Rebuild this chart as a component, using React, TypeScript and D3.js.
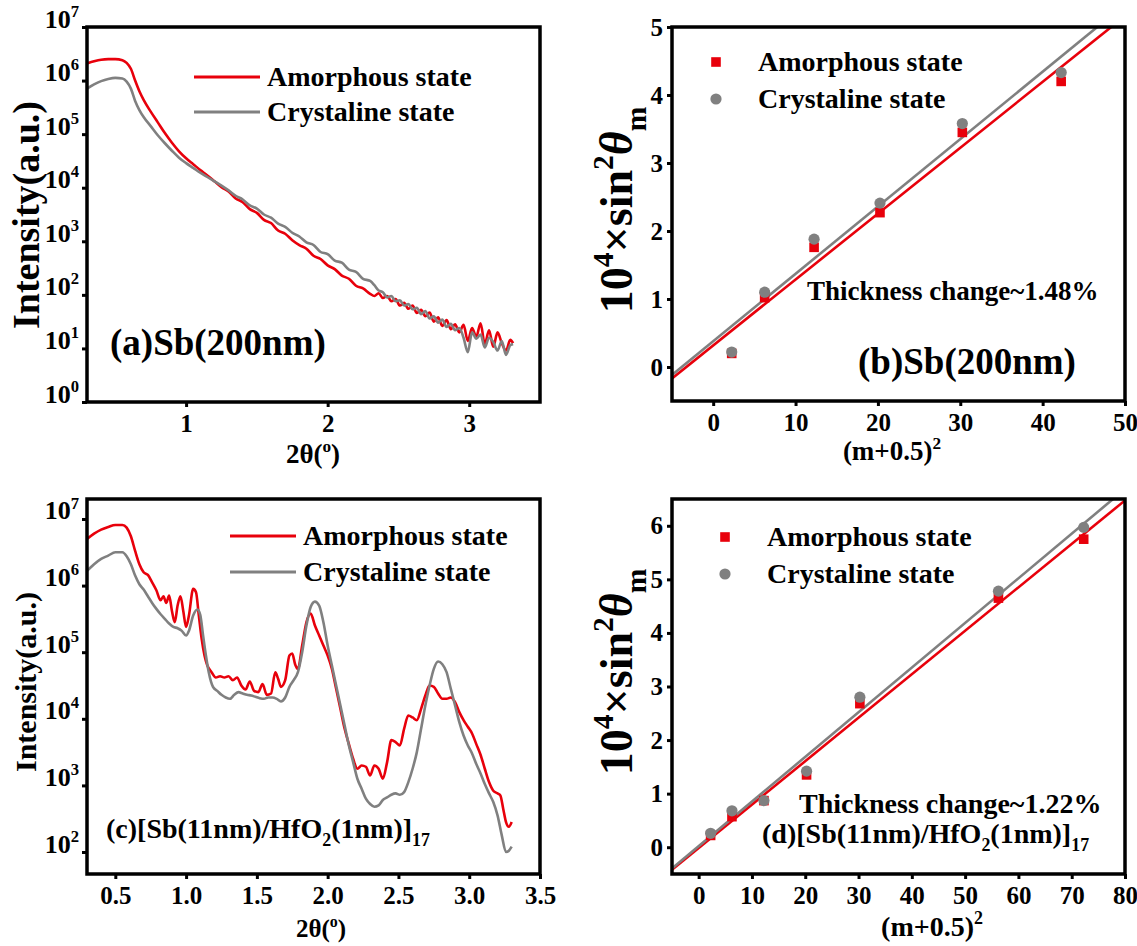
import { useEffect, useRef } from "react";
import * as d3 from "d3";

const RED = "#e8000b";
const GRAY = "#808080";
const FONT = "'Liberation Serif', 'Times New Roman', serif";

// (a) Sb(200nm) reflectivity: 2θ (deg) and log10(intensity)
const angleA = [
  0.3, 0.35, 0.4, 0.45, 0.5, 0.55, 0.58, 0.61, 0.64, 0.67, 0.7, 0.75, 0.8, 0.85, 0.9, 0.95, 1.0, 1.05,
  1.1, 1.15, 1.2, 1.25, 1.3, 1.35, 1.4, 1.45, 1.5, 1.55, 1.6, 1.65, 1.7, 1.75, 1.8, 1.85, 1.9, 1.95, 2.0,
  2.05, 2.1, 2.15, 2.2, 2.25, 2.3, 2.33, 2.36, 2.39, 2.42, 2.45, 2.48, 2.51, 2.54, 2.57, 2.6, 2.63, 2.66,
  2.69, 2.72, 2.75, 2.78, 2.81, 2.84, 2.87, 2.9, 2.93, 2.96, 2.99, 3.02, 3.05, 3.08, 3.11, 3.14, 3.17,
  3.2, 3.23, 3.26, 3.29, 3.31,
];
const amorphA = [
  6.32, 6.36, 6.39, 6.4, 6.4, 6.38, 6.33, 6.22, 6.0, 5.8, 5.64, 5.42, 5.22, 5.02, 4.84, 4.68, 4.55, 4.44,
  4.33, 4.23, 4.12, 4.01, 3.93, 3.8, 3.73, 3.6, 3.53, 3.4, 3.34, 3.2, 3.14, 3.02, 2.93, 2.86, 2.73, 2.67,
  2.55, 2.48, 2.36, 2.3, 2.17, 2.12, 2.02, 1.98, 2.03, 1.94, 1.98, 1.88, 1.92, 1.8, 1.85, 1.74, 1.8, 1.66,
  1.72, 1.6, 1.67, 1.5, 1.58, 1.42, 1.53, 1.36, 1.45, 1.3, 1.44, 1.14, 1.38, 1.22, 1.47, 1.08, 1.34,
  1.03, 1.3, 1.1, 0.96, 1.16, 1.1,
];
const crystA = [
  5.85, 5.93, 5.99, 6.03, 6.05, 6.04, 5.98, 5.85, 5.62, 5.45, 5.32, 5.15, 4.98, 4.83, 4.69, 4.56, 4.46,
  4.37, 4.28, 4.2, 4.12, 4.04, 3.95, 3.85, 3.78, 3.67, 3.61, 3.5, 3.44, 3.33, 3.27, 3.16, 3.09, 2.98,
  2.93, 2.8, 2.76, 2.64, 2.6, 2.47, 2.43, 2.3, 2.26, 2.18, 2.08, 2.05, 1.95, 1.98, 1.88, 1.9, 1.8, 1.83,
  1.73, 1.76, 1.64, 1.7, 1.56, 1.6, 1.48, 1.54, 1.4, 1.46, 1.34, 1.38, 1.2, 0.93, 1.3, 1.18, 1.26, 1.02,
  1.2, 1.12, 0.96, 1.14, 0.88, 1.06, 1.08,
];

// (c) [Sb(11nm)/HfO2(1nm)]17 reflectivity
const angleCAmorph = [
  0.3, 0.35, 0.4, 0.45, 0.5, 0.55, 0.58, 0.61, 0.64, 0.67, 0.7, 0.73, 0.76, 0.79, 0.82, 0.84, 0.86, 0.88,
  0.9, 0.92, 0.94, 0.96, 0.98, 1.0, 1.02, 1.05, 1.07, 1.09, 1.11, 1.13, 1.15, 1.18, 1.21, 1.24, 1.27,
  1.3, 1.33, 1.36, 1.39, 1.42, 1.45, 1.48, 1.51, 1.54, 1.57, 1.6, 1.63, 1.65, 1.67, 1.7, 1.73, 1.75,
  1.77, 1.79, 1.82, 1.85, 1.88, 1.91, 1.94, 1.97, 2.0, 2.03, 2.06, 2.09, 2.12, 2.15, 2.18, 2.21, 2.24,
  2.27, 2.3, 2.33, 2.36, 2.39, 2.42, 2.45, 2.48, 2.51, 2.54, 2.57, 2.6, 2.63, 2.66, 2.69, 2.72, 2.75,
  2.78, 2.81, 2.84, 2.87, 2.9, 2.93, 2.96, 2.99, 3.02, 3.05, 3.08, 3.11, 3.14, 3.17, 3.2, 3.22, 3.24,
  3.26, 3.28, 3.3,
];
const amorphC = [
  6.7, 6.78, 6.84, 6.88, 6.91, 6.91, 6.87, 6.74, 6.52, 6.32, 6.2, 6.16, 6.05, 5.93, 5.78, 5.84, 5.74,
  5.85, 5.62, 5.45, 5.7, 5.84, 5.62, 5.38, 5.55, 5.95, 5.9, 5.55, 5.2, 4.95, 4.8, 4.7, 4.62, 4.64, 4.62,
  4.64, 4.58, 4.62, 4.5, 4.44, 4.56, 4.42, 4.4, 4.52, 4.36, 4.38, 4.7, 4.6, 4.48, 4.58, 4.95, 4.98, 4.82,
  4.75, 5.1, 5.45, 5.58, 5.4, 5.25, 5.1, 4.95, 4.75, 4.45, 4.15, 3.85, 3.62, 3.4, 3.25, 3.3, 3.28, 3.15,
  3.3, 3.25, 3.1, 3.35, 3.68, 3.65, 3.6, 3.85, 4.05, 4.02, 3.98, 4.15, 4.35, 4.5, 4.48, 4.38, 4.3, 4.3,
  4.32, 4.25, 4.1, 3.98, 3.88, 3.78, 3.62, 3.46, 3.25, 3.05, 2.92, 2.88, 2.85, 2.65, 2.45, 2.38, 2.45,
];
const angleCCryst = [
  0.3, 0.35, 0.4, 0.45, 0.5, 0.55, 0.58, 0.61, 0.64, 0.67, 0.7, 0.73, 0.76, 0.79, 0.82, 0.85, 0.88, 0.91,
  0.94, 0.97, 1.0, 1.02, 1.05, 1.08, 1.1, 1.12, 1.14, 1.16, 1.19, 1.22, 1.25, 1.28, 1.31, 1.34, 1.37,
  1.4, 1.43, 1.46, 1.49, 1.52, 1.55, 1.58, 1.61, 1.64, 1.67, 1.7, 1.73, 1.76, 1.79, 1.82, 1.85, 1.88,
  1.91, 1.94, 1.97, 2.0, 2.03, 2.06, 2.09, 2.12, 2.15, 2.18, 2.21, 2.24, 2.27, 2.3, 2.33, 2.36, 2.39,
  2.42, 2.45, 2.48, 2.51, 2.54, 2.57, 2.6, 2.63, 2.66, 2.69, 2.72, 2.75, 2.78, 2.81, 2.84, 2.87, 2.9,
  2.93, 2.96, 2.99, 3.02, 3.05, 3.08, 3.11, 3.14, 3.17, 3.2, 3.23, 3.26, 3.28, 3.3,
];
const crystC = [
  6.22, 6.32, 6.4, 6.45, 6.5, 6.5, 6.44, 6.32, 6.15, 6.02, 5.94, 5.84, 5.74, 5.65, 5.57, 5.5, 5.43, 5.38,
  5.36, 5.32, 5.25, 5.32, 5.55, 5.64, 5.56, 5.25, 4.95, 4.7, 4.48, 4.42, 4.36, 4.32, 4.3, 4.36, 4.4,
  4.38, 4.36, 4.35, 4.33, 4.31, 4.3, 4.32, 4.32, 4.3, 4.26, 4.32, 4.48, 4.58, 4.7, 5.0, 5.4, 5.68, 5.76,
  5.7, 5.45, 5.1, 4.8, 4.5, 4.2, 3.9, 3.6, 3.35, 3.1, 2.95, 2.8, 2.72, 2.68, 2.7, 2.78, 2.82, 2.86, 2.88,
  2.86, 2.9, 3.05, 3.25, 3.5, 3.85, 4.2, 4.5, 4.75, 4.86, 4.82, 4.7, 4.45, 4.2, 3.95, 3.75, 3.6, 3.48,
  3.32, 3.18, 3.02, 2.88, 2.75, 2.55, 2.25, 2.0, 2.02, 2.08,
];

// (b) Sb(200nm): (m+0.5)^2 vs 10^4 sin^2(theta_m)
const orderB = [2.25, 6.25, 12.25, 20.25, 30.25, 42.25];
const amorphB = [0.2, 1.02, 1.76, 2.27, 3.45, 4.2];
const crystB = [0.22, 1.1, 1.88, 2.41, 3.58, 4.33];

// (d) multilayer
const orderD = [2.25, 6.25, 12.25, 20.25, 30.25, 56.25, 72.25];
const amorphD = [0.22, 0.57, 0.87, 1.35, 2.68, 4.65, 5.75];
const crystD = [0.26, 0.68, 0.87, 1.42, 2.8, 4.78, 5.97];

const decadesA = [0, 1, 2, 3, 4, 5, 6, 7];
const decadesC = [2, 3, 4, 5, 6, 7];
const angleTicksA = [1, 2, 3];
const angleTicksC = [0.5, 1.0, 1.5, 2.0, 2.5, 3.0, 3.5];
const orderTicksB = [0, 10, 20, 30, 40, 50];
const orderTicksD = [0, 10, 20, 30, 40, 50, 60, 70, 80];
const sinTicksB = [0, 1, 2, 3, 4, 5];
const sinTicksD = [0, 1, 2, 3, 4, 5, 6];

type Part = { t: string; k?: "sup" | "sub"; it?: boolean };
type Sel = d3.Selection<any, unknown, null, undefined>;
type Box = { x0: number; x1: number; y0: number; y1: number };

function rich(sel: Sel, parts: Part[], size: number) {
  let shift = 0;
  parts.forEach((p) => {
    const target = p.k === "sup" ? -0.42 * size : p.k === "sub" ? 0.3 * size : 0;
    const ts = sel
      .append("tspan")
      .attr("dy", target - shift)
      .attr("font-size", p.k ? size * 0.64 : size)
      .text(p.t);
    if (p.it) ts.attr("font-style", "italic");
    shift = target;
  });
}

function label(g: Sel, x: number, y: number, parts: Part[], size: number, anchor = "start", rotate = false) {
  const t = g
    .append("text")
    .attr("text-anchor", anchor)
    .attr("font-size", size)
    .attr("transform", rotate ? `translate(${x},${y}) rotate(-90)` : `translate(${x},${y})`);
  rich(t, parts, size);
}

function styleAxis(a: Sel, size: number) {
  a.attr("font-family", FONT).attr("font-weight", "bold").attr("font-size", size);
  a.select(".domain").remove();
  a.selectAll(".tick line").attr("stroke", "#000").attr("stroke-width", 3);
  a.selectAll(".tick text").attr("fill", "#000");
}

function fitLine(xs: number[], ys: number[]) {
  const mx = d3.mean(xs) ?? 0;
  const my = d3.mean(ys) ?? 0;
  const sxy = d3.sum(xs, (x, i) => (x - mx) * (ys[i] - my));
  const sxx = d3.sum(xs, (x) => (x - mx) ** 2);
  const slope = sxy / sxx;
  return { slope, intercept: my - slope * mx };
}

function frame(g: Sel, b: Box) {
  g.append("rect")
    .attr("x", b.x0)
    .attr("y", b.y0)
    .attr("width", b.x1 - b.x0)
    .attr("height", b.y1 - b.y0)
    .attr("fill", "none")
    .attr("stroke", "#000")
    .attr("stroke-width", 3.5);
}

function drawXrr(
  svg: Sel,
  id: string,
  b: Box,
  yDomain: [number, number],
  decades: number[],
  xTicks: number[],
  xFmt: (v: number) => string,
  series: { x: number[]; y: number[]; color: string }[],
) {
  const x = d3.scaleLinear().domain([0.3, 3.5]).range([b.x0, b.x1]);
  const y = d3.scaleLog().domain(yDomain).range([b.y1, b.y0]);
  const g = svg.append("g");

  g.append("clipPath").attr("id", id).append("rect")
    .attr("x", b.x0).attr("y", b.y0).attr("width", b.x1 - b.x0).attr("height", b.y1 - b.y0);

  const line = d3
    .line<[number, number]>()
    .x((d) => x(d[0]))
    .y((d) => y(10 ** d[1]))
    .curve(d3.curveMonotoneX);

  series.forEach((s) => {
    g.append("path")
      .attr("clip-path", `url(#${id})`)
      .attr("d", line(s.x.map((v, i) => [v, s.y[i]] as [number, number])))
      .attr("fill", "none")
      .attr("stroke", s.color)
      .attr("stroke-width", 2.6)
      .attr("stroke-linejoin", "round");
  });

  const ax = g
    .append("g")
    .attr("transform", `translate(0,${b.y1})`)
    .call(d3.axisBottom(x).tickValues(xTicks).tickFormat((v) => xFmt(+v)).tickSize(5).tickPadding(7));
  styleAxis(ax, 25);

  const ay = g
    .append("g")
    .attr("transform", `translate(${b.x0},0)`)
    .call(d3.axisLeft(y).tickValues(decades.map((d) => 10 ** d)).tickFormat(() => "").tickSize(5).tickPadding(3));
  styleAxis(ay, 26);
  ay.selectAll<SVGTextElement, number>(".tick text").each(function (v) {
    const t = d3.select(this);
    t.text(null);
    rich(t as unknown as Sel, [{ t: "10" }, { t: String(Math.round(Math.log10(v))), k: "sup" }], 26);
  });

  frame(g, b);
  return g;
}

function drawFit(
  svg: Sel,
  id: string,
  b: Box,
  xDomain: [number, number],
  yDomain: [number, number],
  xTicks: number[],
  yTicks: number[],
  xs: number[],
  amorph: number[],
  cryst: number[],
) {
  const x = d3.scaleLinear().domain(xDomain).range([b.x0, b.x1]);
  const y = d3.scaleLinear().domain(yDomain).range([b.y1, b.y0]);
  const g = svg.append("g");

  g.append("clipPath").attr("id", id).append("rect")
    .attr("x", b.x0).attr("y", b.y0).attr("width", b.x1 - b.x0).attr("height", b.y1 - b.y0);

  [
    { ys: amorph, color: RED },
    { ys: cryst, color: GRAY },
  ].forEach((s) => {
    const f = fitLine(xs, s.ys);
    g.append("line")
      .attr("clip-path", `url(#${id})`)
      .attr("x1", x(xDomain[0]))
      .attr("y1", y(f.slope * xDomain[0] + f.intercept))
      .attr("x2", x(xDomain[1]))
      .attr("y2", y(f.slope * xDomain[1] + f.intercept))
      .attr("stroke", s.color)
      .attr("stroke-width", 2.6);
  });

  g.selectAll(".sq")
    .data(xs)
    .join("rect")
    .attr("x", (d) => x(d) - 4.8)
    .attr("y", (d, i) => y(amorph[i]) - 4.8)
    .attr("width", 9.6)
    .attr("height", 9.6)
    .attr("fill", RED);

  g.selectAll(".dot")
    .data(xs)
    .join("circle")
    .attr("cx", (d) => x(d))
    .attr("cy", (d, i) => y(cryst[i]))
    .attr("r", 5.6)
    .attr("fill", GRAY);

  const ax = g
    .append("g")
    .attr("transform", `translate(0,${b.y1})`)
    .call(d3.axisBottom(x).tickValues(xTicks).tickFormat(d3.format("d")).tickSize(5).tickPadding(7));
  styleAxis(ax, 25);

  const ay = g
    .append("g")
    .attr("transform", `translate(${b.x0},0)`)
    .call(d3.axisLeft(y).tickValues(yTicks).tickFormat(d3.format("d")).tickSize(5).tickPadding(4));
  styleAxis(ay, 25);

  frame(g, b);
  return g;
}

function lineLegend(g: Sel, x: number, y: number, gap: number, size: number) {
  [
    { name: "Amorphous state", color: RED },
    { name: "Crystaline state", color: GRAY },
  ].forEach((e, i) => {
    const yy = y + i * gap;
    g.append("line").attr("x1", x).attr("x2", x + 66).attr("y1", yy).attr("y2", yy)
      .attr("stroke", e.color).attr("stroke-width", 2.8);
    label(g, x + 73, yy + 9, [{ t: e.name }], size);
  });
}

function markerLegend(g: Sel, x: number, y: number, gap: number, size: number) {
  g.append("rect").attr("x", x - 4.8).attr("y", y - 4.8).attr("width", 9.6).attr("height", 9.6).attr("fill", RED);
  g.append("circle").attr("cx", x).attr("cy", y + gap).attr("r", 5.6).attr("fill", GRAY);
  label(g, x + 42, y + 9, [{ t: "Amorphous state" }], size);
  label(g, x + 42, y + gap + 9, [{ t: "Crystaline state" }], size);
}

const multilayer: Part[] = [
  { t: "[Sb(11nm)/HfO" },
  { t: "2", k: "sub" },
  { t: "(1nm)]" },
  { t: "17", k: "sub" },
];

const sinTitle: Part[] = [
  { t: "10" },
  { t: "4", k: "sup" },
  { t: "×sin" },
  { t: "2", k: "sup" },
  { t: "θ", it: true },
  { t: "m", k: "sub" },
];

export default function App() {
  const svgRef = useRef<SVGSVGElement | null>(null);

  useEffect(() => {
    if (!svgRef.current) {
      return;
    }
    const svg = d3.select(svgRef.current) as unknown as Sel;
    svg.selectAll("*").remove();
    svg.attr("font-family", FONT).attr("font-weight", "bold").attr("fill", "#000");

    const boxA = { x0: 87, x1: 540, y0: 27, y1: 402 };
    const boxB = { x0: 672, x1: 1125, y0: 27, y1: 401 };
    const boxC = { x0: 87, x1: 540, y0: 499, y1: 874 };
    const boxD = { x0: 672, x1: 1125, y0: 499, y1: 874 };

    // (a)
    const ga = drawXrr(svg, "clipA", boxA, [1, 1e7], decadesA, angleTicksA, d3.format("d"), [
      { x: angleA, y: amorphA, color: RED },
      { x: angleA, y: crystA, color: GRAY },
    ]);
    lineLegend(ga, 194, 77, 35, 28);
    label(ga, 110, 355, [{ t: "(a)Sb(200nm)" }], 37);
    label(ga, 39, 215, [{ t: "Intensity(a.u.)" }], 38, "middle", true);
    label(ga, 313, 463, [{ t: "2θ(" }, { t: "o", k: "sup" }, { t: ")" }], 27, "middle");

    // (b)
    const gb = drawFit(svg, "clipB", boxB, [-5, 50], [-0.5, 5], orderTicksB, sinTicksB, orderB, amorphB, crystB);
    markerLegend(gb, 716, 62, 37, 28);
    label(gb, 807, 300, [{ t: "Thickness change~1.48%" }], 27);
    label(gb, 858, 374, [{ t: "(b)Sb(200nm)" }], 37);
    label(gb, 632, 210, sinTitle, 46, "middle", true);
    label(gb, 892, 460, [{ t: "(m+0.5)" }, { t: "2", k: "sup" }], 27, "middle");

    // (c)
    const gc = drawXrr(svg, "clipC", boxC, [10 ** 1.67, 10 ** 7.3], decadesC, angleTicksC, d3.format(".1f"), [
      { x: angleCAmorph, y: amorphC, color: RED },
      { x: angleCCryst, y: crystC, color: GRAY },
    ]);
    lineLegend(gc, 230, 536, 36, 28);
    label(gc, 106, 838, [{ t: "(c)" }, ...multilayer], 28);
    label(gc, 36, 682, [{ t: "Intensity(a.u.)" }], 30, "middle", true);
    label(gc, 321, 937, [{ t: "2θ(" }, { t: "o", k: "sup" }, { t: ")" }], 25, "middle");

    // (d)
    const gd = drawFit(svg, "clipD", boxD, [-5, 80], [-0.5, 6.5], orderTicksD, sinTicksD, orderD, amorphD, crystD);
    markerLegend(gd, 725, 537, 37, 28);
    label(gd, 799, 813, [{ t: "Thickness change~1.22%" }], 28);
    label(gd, 762, 843, [{ t: "(d)" }, ...multilayer], 28);
    label(gd, 632, 672, sinTitle, 46, "middle", true);
    label(gd, 932, 936, [{ t: "(m+0.5)" }, { t: "2", k: "sup" }], 28, "middle");
  }, []);

  return (
    <svg
      ref={svgRef}
      width={1137}
      height={946}
      style={{ position: "absolute", left: 0, top: 0, background: "#fff" }}
    />
  );
}
